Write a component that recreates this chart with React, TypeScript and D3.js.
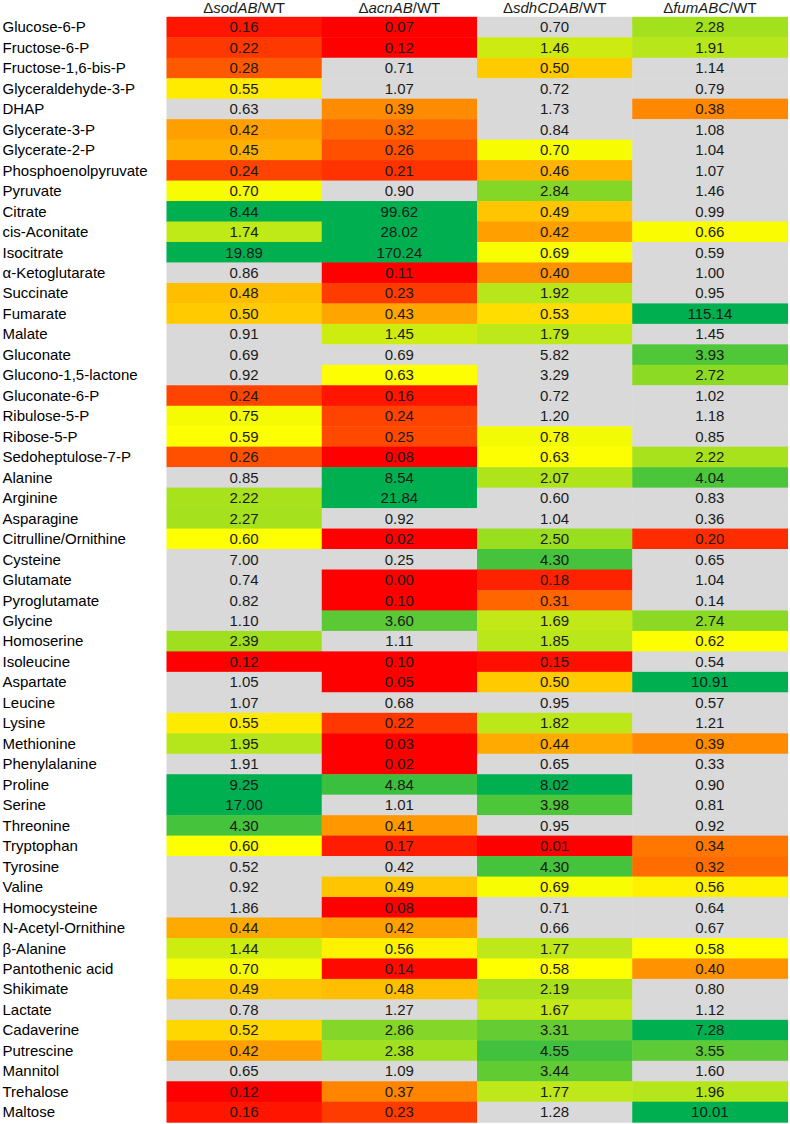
import React from "react";
import * as d3 from "d3";

const metabolites = [
  "Glucose-6-P", "Fructose-6-P", "Fructose-1,6-bis-P", "Glyceraldehyde-3-P", "DHAP",
  "Glycerate-3-P", "Glycerate-2-P", "Phosphoenolpyruvate", "Pyruvate", "Citrate",
  "cis-Aconitate", "Isocitrate", "α-Ketoglutarate", "Succinate", "Fumarate",
  "Malate", "Gluconate", "Glucono-1,5-lactone", "Gluconate-6-P", "Ribulose-5-P",
  "Ribose-5-P", "Sedoheptulose-7-P", "Alanine", "Arginine", "Asparagine",
  "Citrulline/Ornithine", "Cysteine", "Glutamate", "Pyroglutamate", "Glycine",
  "Homoserine", "Isoleucine", "Aspartate", "Leucine", "Lysine",
  "Methionine", "Phenylalanine", "Proline", "Serine", "Threonine",
  "Tryptophan", "Tyrosine", "Valine", "Homocysteine", "N-Acetyl-Ornithine",
  "β-Alanine", "Pantothenic acid", "Shikimate", "Lactate", "Cadaverine",
  "Putrescine", "Mannitol", "Trehalose", "Maltose",
];

const sodAB = [
  0.16, 0.22, 0.28, 0.55, 0.63, 0.42, 0.45, 0.24, 0.70, 8.44,
  1.74, 19.89, 0.86, 0.48, 0.50, 0.91, 0.69, 0.92, 0.24, 0.75,
  0.59, 0.26, 0.85, 2.22, 2.27, 0.60, 7.00, 0.74, 0.82, 1.10,
  2.39, 0.12, 1.05, 1.07, 0.55, 1.95, 1.91, 9.25, 17.00, 4.30,
  0.60, 0.52, 0.92, 1.86, 0.44, 1.44, 0.70, 0.49, 0.78, 0.52,
  0.42, 0.65, 0.12, 0.16,
];
const acnAB = [
  0.07, 0.12, 0.71, 1.07, 0.39, 0.32, 0.26, 0.21, 0.90, 99.62,
  28.02, 170.24, 0.11, 0.23, 0.43, 1.45, 0.69, 0.63, 0.16, 0.24,
  0.25, 0.08, 8.54, 21.84, 0.92, 0.02, 0.25, 0.00, 0.10, 3.60,
  1.11, 0.10, 0.05, 0.68, 0.22, 0.03, 0.02, 4.84, 1.01, 0.41,
  0.17, 0.42, 0.49, 0.08, 0.42, 0.56, 0.14, 0.48, 1.27, 2.86,
  2.38, 1.09, 0.37, 0.23,
];
const sdhCDAB = [
  0.70, 1.46, 0.50, 0.72, 1.73, 0.84, 0.70, 0.46, 2.84, 0.49,
  0.42, 0.69, 0.40, 1.92, 0.53, 1.79, 5.82, 3.29, 0.72, 1.20,
  0.78, 0.63, 2.07, 0.60, 1.04, 2.50, 4.30, 0.18, 0.31, 1.69,
  1.85, 0.15, 0.50, 0.95, 1.82, 0.44, 0.65, 8.02, 3.98, 0.95,
  0.01, 4.30, 0.69, 0.71, 0.66, 1.77, 0.58, 2.19, 1.67, 3.31,
  4.55, 3.44, 1.77, 1.28,
];
const fumABC = [
  2.28, 1.91, 1.14, 0.79, 0.38, 1.08, 1.04, 1.07, 1.46, 0.99,
  0.66, 0.59, 1.00, 0.95, 115.14, 1.45, 3.93, 2.72, 1.02, 1.18,
  0.85, 2.22, 4.04, 0.83, 0.36, 0.20, 0.65, 1.04, 0.14, 2.74,
  0.62, 0.54, 10.91, 0.57, 1.21, 0.39, 0.33, 0.90, 0.81, 0.92,
  0.34, 0.32, 0.56, 0.64, 0.67, 0.58, 0.40, 0.80, 1.12, 7.28,
  3.55, 1.60, 1.96, 10.01,
];

// 1 = coloured (significant), 0 = grey
const sodABSig = [
  1, 1, 1, 1, 0, 1, 1, 1, 1, 1,
  1, 1, 0, 1, 1, 0, 0, 0, 1, 1,
  1, 1, 0, 1, 1, 1, 0, 0, 0, 0,
  1, 1, 0, 0, 1, 1, 0, 1, 1, 1,
  1, 0, 0, 0, 1, 1, 1, 1, 0, 1,
  1, 0, 1, 1,
];
const acnABSig = [
  1, 1, 0, 0, 1, 1, 1, 1, 0, 1,
  1, 1, 1, 1, 1, 1, 0, 1, 1, 1,
  1, 1, 1, 1, 0, 1, 0, 1, 1, 1,
  0, 1, 1, 0, 1, 1, 1, 1, 0, 1,
  1, 0, 1, 1, 1, 1, 1, 1, 0, 1,
  1, 0, 1, 1,
];
const sdhCDABSig = [
  0, 1, 1, 0, 0, 0, 1, 1, 1, 1,
  1, 1, 1, 1, 1, 1, 0, 0, 0, 0,
  1, 1, 1, 0, 0, 1, 1, 1, 1, 1,
  1, 1, 1, 0, 1, 1, 0, 1, 1, 0,
  1, 1, 1, 0, 0, 1, 1, 1, 1, 1,
  1, 1, 1, 0,
];
const fumABCSig = [
  1, 1, 0, 0, 1, 0, 0, 0, 0, 0,
  1, 0, 0, 0, 1, 0, 1, 1, 0, 0,
  0, 1, 1, 0, 0, 1, 0, 0, 0, 1,
  1, 0, 1, 0, 0, 1, 0, 0, 0, 0,
  1, 1, 1, 0, 0, 1, 1, 0, 0, 1,
  1, 0, 1, 1,
];

const columnKeys = ["sodAB", "acnAB", "sdhCDAB", "fumABC"];
const columnValues = [sodAB, acnAB, sdhCDAB, fumABC];
const columnSig = [sodABSig, acnABSig, sdhCDABSig, fumABCSig];

const colorStops = [0.12, 0.15, 0.18, 0.23, 0.26, 0.31, 0.34, 0.39, 0.43, 0.48, 0.53, 0.56, 0.58,
  1.44, 1.8, 2.2, 2.5, 2.8, 3.3, 4.0, 4.8, 7.0];
const colorRange = ["#ff0000", "#ff0f00", "#ff2200", "#ff3c00", "#ff5000", "#ff6600", "#ff7700",
  "#ff8c00", "#ffa500", "#ffbf00", "#ffdd00", "#fff200", "#ffff00",
  "#cdec10", "#bde81a", "#a8e21c", "#9ade20", "#88d826", "#66cc33", "#4cc63a", "#3cbf3e", "#00b050"];

const W = 790;
const H = 1124;
const FONT = "'Liberation Sans', Arial, Helvetica, sans-serif";

export default function App() {
  const y = d3.scaleBand<string>().domain(metabolites).range([16.8, 1122.2]).padding(0);
  const x = d3.scaleBand<string>().domain(columnKeys).range([166.5, 787.5]).padding(0);
  const color = d3.scaleLinear<string>().domain(colorStops).range(colorRange).clamp(true)
    .interpolate(d3.interpolateRgb);
  const grey = "#d9d9d9";

  return (
    <svg width={W} height={H} style={{ position: "absolute", left: 0, top: 0, display: "block", background: "#fff" }}
      fontFamily={FONT}>
      <rect x={0} y={0} width={W} height={H} fill="#ffffff" />
      {columnKeys.map((k) => (
        <text key={"h" + k} x={(x(k) as number) + x.bandwidth() / 2} y={12.5} textAnchor="middle"
          fontSize={15} fill="#1a1a1a">
          <tspan>Δ</tspan>
          <tspan fontStyle="italic">{k}</tspan>
          <tspan>/WT</tspan>
        </text>
      ))}
      {metabolites.map((m, i) => (
        <g key={m}>
          {columnKeys.map((k, j) => {
            const v = columnValues[j][i];
            const fill = columnSig[j][i] ? color(v) : grey;
            return (
              <rect key={k} x={x(k)} y={y(m)} width={x.bandwidth() + 0.5} height={y.bandwidth() + 0.5}
                fill={fill} />
            );
          })}
        </g>
      ))}
      {metabolites.map((m, i) => (
        <g key={"t" + m}>
          <text x={2.5} y={(y(m) as number) + y.bandwidth() / 2 + 5.3} fontSize={15} fill="#000">{m}</text>
          {columnKeys.map((k, j) => (
            <text key={k} x={(x(k) as number) + x.bandwidth() / 2} y={(y(m) as number) + y.bandwidth() / 2 + 5.3}
              textAnchor="middle" fontSize={15} fill="#1a1a1a">
              {columnValues[j][i].toFixed(2)}
            </text>
          ))}
        </g>
      ))}
    </svg>
  );
}
